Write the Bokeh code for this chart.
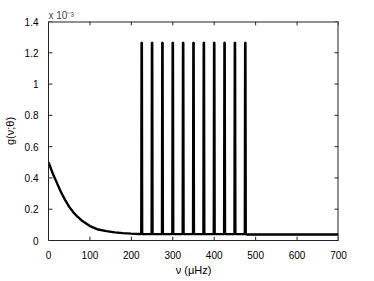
import numpy as np
from bokeh.plotting import figure
from bokeh.models import Range1d, FixedTicker
from bokeh.embed import file_html
from bokeh.resources import INLINE

# Smooth background part of g(nu; theta), values in units of 1e-3
bg_freq = [0, 10, 20, 30, 40, 50, 60, 70, 80, 100, 120, 140, 160, 180, 200, 220, 480, 700]
bg_val = [0.50, 0.43, 0.37, 0.31, 0.26, 0.215, 0.18, 0.152, 0.128, 0.092, 0.07, 0.06,
          0.052, 0.047, 0.044, 0.042, 0.038, 0.038]

# Narrow mode peaks
peak_freq = [225, 250, 275, 300, 325, 350, 375, 400, 425, 450, 475]
peak_height = [1.265] * 11
peak_base = [0.041] * 11

x_ticks = [0, 100, 200, 300, 400, 500, 600, 700]
y_ticks = [0, 0.2, 0.4, 0.6, 0.8, 1.0, 1.2, 1.4]

# Build the line path: background points plus spike shapes
hw_top, hw_base = 0.35, 1.1
pts = [(f, v) for f, v in zip(bg_freq, bg_val) if f < 222 or f > 478]
for f, h, b in zip(peak_freq, peak_height, peak_base):
    pts += [(f - hw_base, b), (f - hw_top, h), (f + hw_top, h), (f + hw_base, b)]
pts.sort(key=lambda t: t[0])
xs = [t[0] for t in pts]
ys = [t[1] for t in pts]

AX = "#222222"
W, H = 366, 278
BL, BR, BT, BB = 46, 28, 21, 29
x0, x1 = x_ticks[0], x_ticks[-1]
y0, y1 = y_ticks[0], y_ticks[-1]

p = figure(width=W, height=H, output_backend="svg", toolbar_location=None,
           x_range=Range1d(x0, x1), y_range=Range1d(y0, y1),
           min_border_left=BL, min_border_right=BR, min_border_top=BT, min_border_bottom=BB,
           title="x 10⁻³")
p.xgrid.grid_line_color = None
p.ygrid.grid_line_color = None
p.outline_line_color = None
p.title.text_font_size = "10px"
p.title.text_font_style = "normal"
p.title.align = "left"
p.title.standoff = 2
p.title.offset = 0

p.line(xs, ys, line_color="black", line_width=2.4)

# Box (top and right edges) and inward ticks on all four sides
fw, fh = W - BL - BR, H - BT - BB
tick_px = 4
tx = tick_px * (x1 - x0) / fw
ty = tick_px * (y1 - y0) / fh
p.multi_line([[x0, x1], [x1, x1]], [[y1, y1], [y0, y1]], line_color=AX, line_width=2)
sx0 = [t for t in x_ticks] * 2 + [x0] * len(y_ticks) + [x1] * len(y_ticks)
sy0 = [y0] * len(x_ticks) + [y1] * len(x_ticks) + y_ticks + y_ticks
sx1 = [t for t in x_ticks] * 2 + [x0 + tx] * len(y_ticks) + [x1 - tx] * len(y_ticks)
sy1 = [y0 + ty] * len(x_ticks) + [y1 - ty] * len(x_ticks) + y_ticks + y_ticks
p.segment(sx0, sy0, sx1, sy1, line_color=AX, line_width=1)

for ax in (p.xaxis[0], p.yaxis[0]):
    ax.axis_line_color = AX
    ax.major_tick_line_color = None
    ax.minor_tick_line_color = None
    ax.major_label_text_font_size = "10px"
    ax.major_label_text_color = "black"
    ax.axis_label_text_font_size = "11px"
    ax.axis_label_text_font_style = "normal"
    ax.axis_label_text_color = "black"

xa = p.xaxis[0]
xa.ticker = FixedTicker(ticks=x_ticks)
xa.axis_label = "ν (μHz)"
xa.major_label_standoff = 4
xa.axis_label_standoff = 2

ya = p.yaxis[0]
ya.ticker = FixedTicker(ticks=y_ticks)
ya.axis_label = "g(ν;θ)"
ya.major_label_standoff = 4
ya.axis_label_standoff = 6

open("out.html", "w").write(file_html(p, INLINE))
